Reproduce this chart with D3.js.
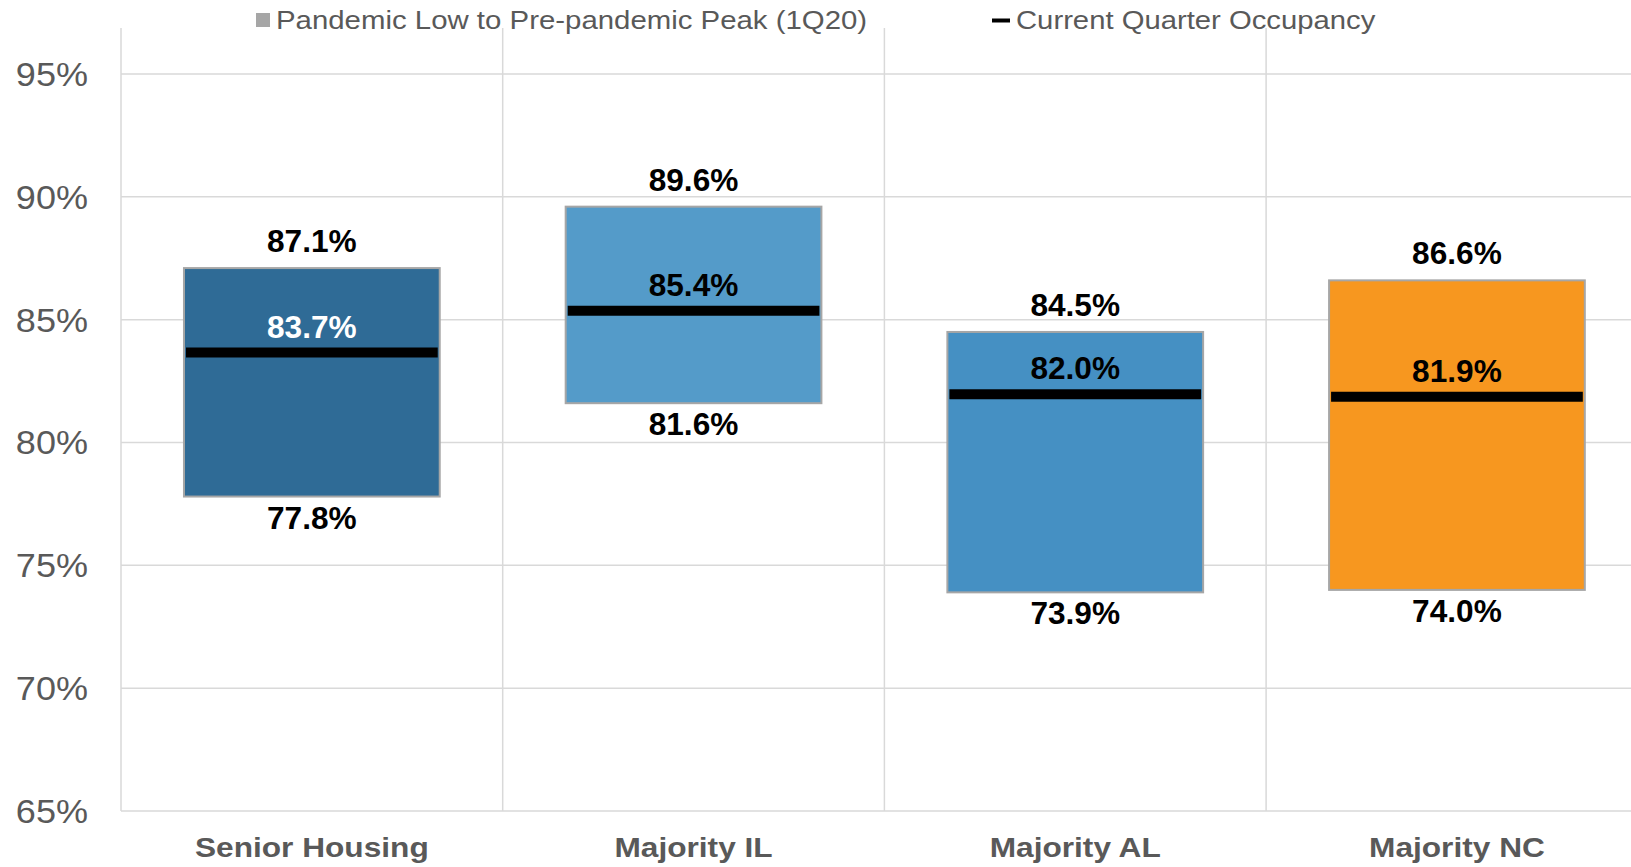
<!DOCTYPE html>
<html>
<head>
<meta charset="utf-8">
<script src="https://cdn.jsdelivr.net/npm/d3@7"></script>
<style>
  html, body { margin: 0; padding: 0; background: #ffffff; overflow: hidden; }
  svg { display: block; font-family: Arial, "Liberation Sans", sans-serif; }
</style>
</head>
<body>
<svg id="chart" width="1631" height="867"></svg>
<script>
// ---- data ----
const categories = ["Senior Housing", "Majority IL", "Majority AL", "Majority NC"];
const pandemicLow = [0.778, 0.816, 0.739, 0.740];
const prePandemicPeak = [0.871, 0.896, 0.845, 0.866];
const currentOccupancy = [0.837, 0.854, 0.820, 0.819];
const yTickValues = [0.65, 0.70, 0.75, 0.80, 0.85, 0.90, 0.95];
const yTickLabels = ["65%", "70%", "75%", "80%", "85%", "90%", "95%"];
const legendLabels = ["Pandemic Low to Pre-pandemic Peak (1Q20)", "Current Quarter Occupancy"];
const barColors = ["#2F6B96", "#549BC9", "#4590C3", "#F7971F"];
const midLabelColors = ["#FFFFFF", "#000000", "#000000", "#000000"];

// ---- layout ----
const svg = d3.select("#chart");
const plotLeft = 121, step = 381.7, plotTop = 28, y0 = 811, y1 = 74;

const x = d3.scaleBand().domain(categories).range([plotLeft, plotLeft + step * categories.length]).padding(0);
const y = d3.scaleLinear().domain([0.65, 0.95]).range([y0, y1]);

function stretch(sel, f) {
  sel.each(function () {
    const w = this.getComputedTextLength();
    d3.select(this).attr("textLength", w * f).attr("lengthAdjust", "spacingAndGlyphs");
  });
}

// horizontal gridlines
svg.append("g").selectAll("line").data(yTickValues).join("line")
  .attr("x1", plotLeft).attr("x2", 1631)
  .attr("y1", d => y(d)).attr("y2", d => y(d))
  .attr("stroke", "#D9D9D9").attr("stroke-width", 1.5);

// vertical category separators
svg.append("g").selectAll("line").data(categories).join("line")
  .attr("x1", d => x(d)).attr("x2", d => x(d))
  .attr("y1", plotTop).attr("y2", y0)
  .attr("stroke", "#D9D9D9").attr("stroke-width", 1.5);

// y tick labels
const yt = svg.append("g").selectAll("text").data(yTickValues).join("text")
  .attr("x", 88).attr("y", d => y(d))
  .attr("dy", "0.35em")
  .attr("text-anchor", "end")
  .attr("font-size", 34).attr("fill", "#595959")
  .text((d, i) => yTickLabels[i]);
stretch(yt, 1.06);

const barW = x.bandwidth() * 0.67;
const barOff = (x.bandwidth() - barW) / 2;
const idx = d3.range(categories.length);

// range boxes
svg.append("g").selectAll("rect").data(idx).join("rect")
  .attr("x", i => x(categories[i]) + barOff)
  .attr("width", barW)
  .attr("y", i => y(prePandemicPeak[i]))
  .attr("height", i => y(pandemicLow[i]) - y(prePandemicPeak[i]))
  .attr("fill", i => barColors[i])
  .attr("stroke", "#A6A6A6").attr("stroke-width", 2);

// current occupancy markers
svg.append("g").selectAll("line").data(idx).join("line")
  .attr("x1", i => x(categories[i]) + barOff + 2)
  .attr("x2", i => x(categories[i]) + barOff + barW - 2)
  .attr("y1", i => y(currentOccupancy[i]) + 1)
  .attr("y2", i => y(currentOccupancy[i]) + 1)
  .attr("stroke", "#000").attr("stroke-width", 10);

const fmt = d3.format(".1%");
const cx = i => x(categories[i]) + x.bandwidth() / 2;

// top labels
const tl = svg.append("g").selectAll("text").data(idx).join("text")
  .attr("x", cx).attr("y", i => y(prePandemicPeak[i]) - 16)
  .attr("text-anchor", "middle").attr("font-size", 31).attr("font-weight", "bold").attr("fill", "#000")
  .text(i => fmt(prePandemicPeak[i]));
stretch(tl, 1.02);

// middle labels
const ml = svg.append("g").selectAll("text").data(idx).join("text")
  .attr("x", cx).attr("y", i => y(currentOccupancy[i]) - 14)
  .attr("text-anchor", "middle").attr("font-size", 31).attr("font-weight", "bold")
  .attr("fill", i => midLabelColors[i])
  .text(i => fmt(currentOccupancy[i]));
stretch(ml, 1.02);

// bottom labels
const bl = svg.append("g").selectAll("text").data(idx).join("text")
  .attr("x", cx).attr("y", i => y(pandemicLow[i]) + 32)
  .attr("text-anchor", "middle").attr("font-size", 31).attr("font-weight", "bold").attr("fill", "#000")
  .text(i => fmt(pandemicLow[i]));
stretch(bl, 1.02);

// category labels
const cl = svg.append("g").selectAll("text").data(categories).join("text")
  .attr("x", d => x(d) + x.bandwidth() / 2).attr("y", 857)
  .attr("text-anchor", "middle").attr("font-size", 28).attr("font-weight", "bold").attr("fill", "#595959")
  .text(d => d);
stretch(cl, 1.13);

// legend
const lg = svg.append("g");
lg.append("rect").attr("x", 256).attr("y", 13).attr("width", 14).attr("height", 14).attr("fill", "#A6A6A6");
const lt1 = lg.append("text").attr("x", 276).attr("y", 29).attr("font-size", 26).attr("fill", "#595959").text(legendLabels[0]);
lg.append("line").attr("x1", 992).attr("x2", 1010).attr("y1", 20.5).attr("y2", 20.5).attr("stroke", "#000").attr("stroke-width", 4);
const lt2 = lg.append("text").attr("x", 1016).attr("y", 29).attr("font-size", 26).attr("fill", "#595959").text(legendLabels[1]);
stretch(lt1, 1.13);
stretch(lt2, 1.125);
</script>
</body>
</html>
